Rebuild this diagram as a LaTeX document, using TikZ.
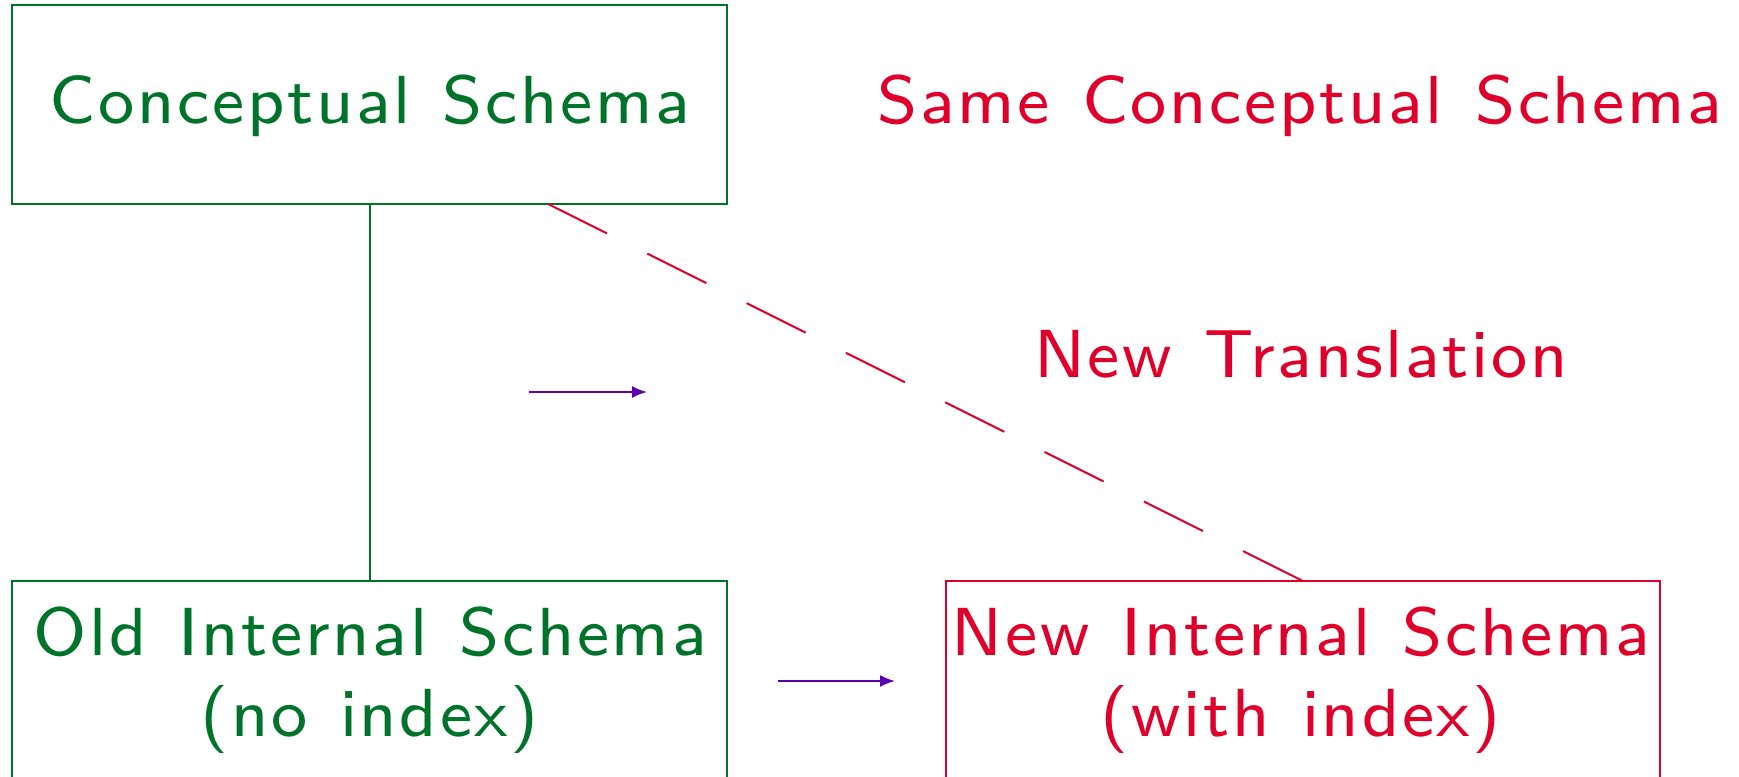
\documentclass[tikz,border=0pt]{standalone}
\usepackage{fontspec}
\newfontfamily\slfont[LetterSpace=4,WordSpace=1.2]{lmsans8-regular.otf}
\usetikzlibrary{arrows.meta,calc}
\definecolor{dgreen}{RGB}{0,115,42}
\definecolor{dred}{RGB}{222,0,42}
\definecolor{dpurple}{RGB}{92,0,180}
\begin{document}
\begin{tikzpicture}[x=0.5pt,y=-0.5pt,
  box/.style={draw,line width=1pt,inner sep=0pt,outer sep=0pt},
  lbl/.style={font=\fontsize{34}{40.5}\selectfont\slfont,inner sep=0pt,align=center,anchor=base},
  arr/.style={dpurple,line width=1pt,-{Latex[length=7.5pt,width=6pt]}}]
\useasboundingbox (0,0) rectangle (1739,776);
\clip (0,0) rectangle (1739,776);
% boxes
\node[box,dgreen,minimum width=357.5pt,minimum height=99.5pt] (cs) at (369.5,104.5) {};
\node[box,dgreen,minimum width=357.5pt,minimum height=150pt] (ois) at (369.5,731) {};
\node[box,dred,minimum width=357pt,minimum height=150pt] (nis) at (1303,731) {};
% texts
\node[lbl,dgreen] (t1) at (370,123) {Conceptual Schema};
\node[lbl,dred] (t2) at (1300,123) {Same Conceptual Schema};
\node[lbl,dred] (t3) at (1301,377) {New Translation};
\node[lbl,dgreen] (t4) at (370,736) {Old Internal Schema\\(no index)};
\node[lbl,dred] (t5) at (1301,736) {New Internal Schema\\(with index)};
% connectors
\draw[dgreen,line width=1pt] (cs.south) -- (cs.south |- ois.north);
\draw[dred,line width=1pt,dash pattern=on 33pt off 22.5pt]
  ($(cs.south west)+(536,0)$) -- (nis.north);
\coordinate (a1s) at (529,392);
\coordinate (a1e) at (647,392);
\coordinate (a2s) at (778,681);
\coordinate (a2e) at (895,681);
\draw[arr] (a1s) -- (a1e);
\draw[arr] (a2s) -- (a2e);
\end{tikzpicture}
\end{document}
